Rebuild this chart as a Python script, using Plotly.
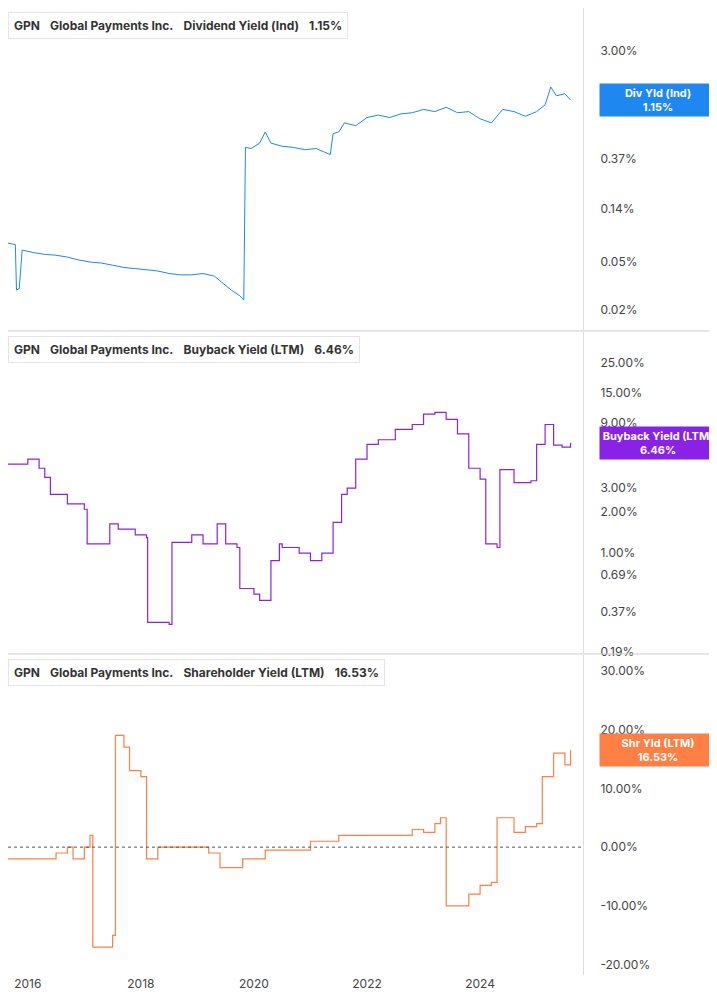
import plotly.graph_objects as go
from plotly.subplots import make_subplots
import numpy as np

div_x = [2015.65,2015.72,2015.78,2015.8,2015.85,2015.9,2016.1,2016.3,2016.5,2016.7,2016.9,2017.1,2017.3,2017.5,2017.7,2017.9,2018.1,2018.3,2018.5,2018.7,2018.9,2019.1,2019.3,2019.45,2019.6,2019.75,2019.82,2019.85,2019.95,2020.1,2020.2,2020.3,2020.5,2020.7,2020.9,2021.1,2021.3,2021.35,2021.4,2021.5,2021.6,2021.8,2022.0,2022.2,2022.4,2022.6,2022.8,2023.0,2023.2,2023.4,2023.6,2023.8,2024.0,2024.2,2024.4,2024.6,2024.8,2025.0,2025.15,2025.25,2025.35,2025.5,2025.6]
div_y = [0.072,0.071,0.070,0.029,0.030,0.063,0.060,0.058,0.057,0.055,0.052,0.050,0.049,0.047,0.045,0.044,0.043,0.042,0.040,0.039,0.039,0.040,0.038,0.033,0.029,0.026,0.024,0.46,0.45,0.50,0.62,0.50,0.47,0.46,0.44,0.45,0.41,0.40,0.60,0.62,0.74,0.70,0.82,0.86,0.82,0.88,0.90,0.96,0.92,1.00,0.90,0.92,0.80,0.74,0.96,0.92,0.84,0.92,1.05,1.48,1.25,1.30,1.15]

bb_x = [2015.65,2016.0,2016.2,2016.3,2016.4,2016.7,2017.0,2017.05,2017.4,2017.45,2017.6,2017.9,2018.1,2018.12,2018.5,2018.55,2018.9,2019.1,2019.35,2019.5,2019.7,2019.75,2020.0,2020.1,2020.3,2020.45,2020.5,2020.8,2021.0,2021.2,2021.4,2021.55,2021.65,2021.8,2022.0,2022.2,2022.5,2022.8,2023.0,2023.2,2023.4,2023.6,2023.8,2024.0,2024.1,2024.3,2024.35,2024.6,2024.9,2025.0,2025.15,2025.3,2025.45,2025.6]
bb_y = [4.5,4.9,4.2,3.6,2.7,2.3,2.1,1.17,1.17,1.64,1.5,1.36,1.3,0.31,0.30,1.2,1.36,1.17,1.64,1.17,1.1,0.55,0.50,0.45,0.88,1.17,1.1,1.0,0.88,1.0,1.68,2.7,3.0,4.9,6.3,6.8,8.1,8.8,10.5,10.8,9.6,7.5,4.2,3.5,1.17,1.1,4.1,3.3,3.4,6.3,8.8,6.2,6.0,6.46]

sh_x = [2015.65,2016.2,2016.5,2016.7,2016.8,2017.0,2017.1,2017.15,2017.5,2017.55,2017.7,2017.8,2018.0,2018.1,2018.3,2019.0,2019.2,2019.4,2019.8,2020.2,2021.0,2021.5,2022.0,2022.5,2022.8,2023.0,2023.2,2023.3,2023.4,2023.6,2023.8,2024.0,2024.2,2024.3,2024.5,2024.6,2024.8,2025.0,2025.1,2025.3,2025.5,2025.6]
sh_y = [-2,-2,-1,0,-2,0,2,-17,-15,19,17,13,12,-2,0,0,-1,-3.5,-2,-0.5,1,2,2,2,3,2.5,4,5,-10,-10,-8,-6.5,-6,5,5,2.5,3.5,4,12,16,14,16.53]

div_ticks = [0.02,0.05,0.14,0.37,1.0,3.0]
bb_ticks = [0.19,0.37,0.69,1.0,2.0,3.0,9.0,15.0,25.0]
sh_ticks = [-20,-10,0,10,20,30]
year_ticks = [2016,2018,2020,2022,2024]

C1, C2, C3 = "#1e88f0", "#8a22e6", "#ff7f45"
fig = make_subplots(rows=3, cols=1, shared_xaxes=True, vertical_spacing=0.002)
fig.add_trace(go.Scatter(x=div_x, y=div_y, mode="lines", line=dict(color=C1, width=1)), 1, 1)
fig.add_trace(go.Scatter(x=bb_x, y=bb_y, mode="lines", line=dict(color=C2, width=1.2, shape="hv")), 2, 1)
fig.add_trace(go.Scatter(x=sh_x, y=sh_y, mode="lines", line=dict(color=C3, width=1.2, shape="hv")), 3, 1)

tf = dict(size=12, color="#444", family="Inter")
fig.update_layout(width=709, height=997, margin=dict(l=0, r=134, t=0, b=30),
                  plot_bgcolor="white", paper_bgcolor="white", showlegend=False, font=tf)
fig.update_xaxes(range=[2015.65, 2025.82], showgrid=False, tickvals=year_ticks,
                 showline=False, zeroline=False)
fig.update_layout(yaxis=dict(domain=[0.667, 1]), yaxis2=dict(domain=[0.333, 0.665]), yaxis3=dict(domain=[0, 0.331]))
fig.update_yaxes(type="log", range=[-1.873, 0.835], tickvals=div_ticks,
                 ticktext=[f"{v:.2f}%" for v in div_ticks], row=1, col=1)
fig.update_yaxes(type="log", range=[-0.733, 1.624], tickvals=bb_ticks,
                 ticktext=[f"{v:.2f}%" for v in bb_ticks], row=2, col=1)
fig.update_yaxes(range=[-21.75, 32.7], tickvals=sh_ticks,
                 ticktext=[f"{v:.2f}%" for v in sh_ticks], zeroline=False, row=3, col=1)
fig.update_yaxes(side="right", showgrid=False, showline=True, linecolor="#ddd",
                 ticks="", ticklabelstandoff=14)

fig.add_shape(type="line", xref="x3", yref="y3", x0=2015.65, x1=2025.82, y0=0, y1=0,
              line=dict(color="#555", width=1, dash="dot"))
for yp in [0.666, 0.332]:
    fig.add_shape(type="line", xref="paper", yref="paper", x0=0, x1=1.233, y0=yp, y1=yp,
                  line=dict(color="#ccc", width=1))

legs = [("Dividend Yield (Ind)", "1.15%", C1, 1.0), ("Buyback Yield (LTM)", "6.46%", C2, 0.665),
        ("Shareholder Yield (LTM)", "16.53%", C3, 0.331)]
for name, val, col, top in legs:
    fig.add_annotation(xref="paper", yref="paper", x=0.0, y=top - 0.004, xanchor="left", yanchor="top",
                       text=f"<b>GPN</b>   <b>Global Payments Inc.</b>   <b>{name}</b>   <b>{val}</b>",
                       showarrow=False, font=dict(size=12, color="#333", family="Inter"),
                       bgcolor="white", bordercolor="#e5e5e5", borderwidth=1, borderpad=5)
    fig.add_shape(type="rect", xref="paper", yref="paper", x0=0.004, x1=0.012,
                  y0=top - 0.031, y1=top - 0.006, fillcolor=col, line=dict(width=0))

labs = [("Div Yld (Ind)", "1.15%", C1, 1.15, "y"), ("Buyback Yield (LTM)", "6.46%", C2, 6.46, "y2"),
        ("Shr Yld (LTM)", "16.53%", C3, 16.53, "y3")]
for name, val, col, v, yr in labs:
    yv = np.log10(v) if yr != "y3" else v
    fig.add_annotation(xref="paper", yref=yr, x=1.233, y=yv, xanchor="right", yanchor="middle",
                       text=f"<b>{name}</b><br><b>{val}</b>", showarrow=False, width=112,
                       font=dict(size=11, color="white", family="Inter"), bgcolor=col, borderpad=2)

fig.write_html("out.html")
